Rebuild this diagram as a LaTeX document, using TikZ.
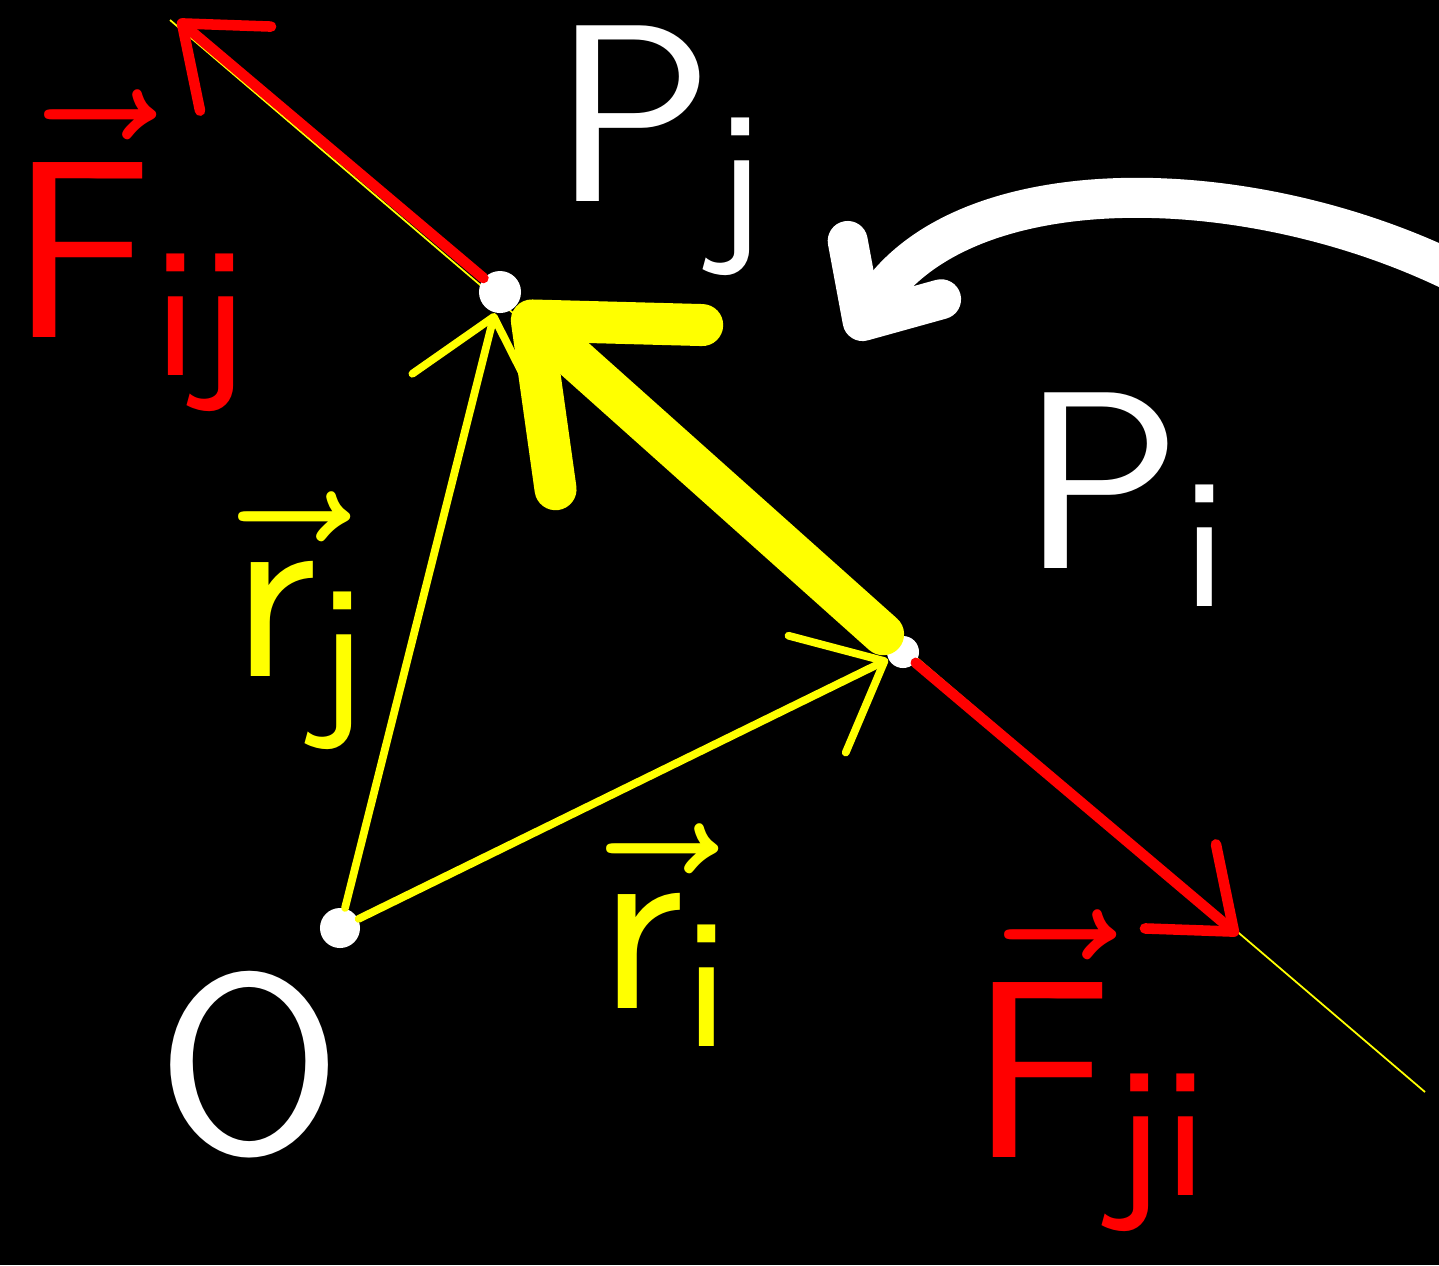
\documentclass[tikz,border=0pt]{standalone}
\usepackage{amsmath, amssymb}
\usepackage{graphicx}
\usetikzlibrary{arrows.meta}

\definecolor{penyellow}{RGB}{255,255,0}
\definecolor{penred}{RGB}{255,0,0}
\newcommand{\biglab}[1]{\scalebox{7.2}{#1}}

\begin{document}
\begin{tikzpicture}[
  x=0.01cm,
  y=-0.01cm,
  pt/.style={circle,fill=white,inner sep=0pt,minimum size=#1},
  vecpos/.style={draw=penyellow,line width=2.2pt,line cap=round,-{Straight Barb[length=0.75cm,width=1.3cm,round]}},
  vecrel/.style={draw=penyellow,line width=0.42cm,line cap=round,shorten <=0.1cm,-{Straight Barb[length=1.3cm,width=2.2cm,round]}},
  force/.style={draw=penred,line width=3pt,line cap=round,-{Straight Barb[length=0.7cm,width=1.1cm,round]}},
  guide/.style={draw=penyellow,line width=0.5pt},
  swirl/.style={draw=white,line width=0.4cm,-{Straight Barb[length=0.6cm,width=1.1cm,round]}},
  lab/.style={font=\sffamily,inner sep=0pt}
]
\useasboundingbox (0,0) rectangle (1439,1265);
\fill[black] (0,0) rectangle (1439,1265);
\clip (0,0) rectangle (1439,1265);

\coordinate (guideA) at (170,20);
\coordinate (guideB) at (1425,1092);
\draw[guide] (guideA) -- (guideB);

\node[pt=0.4cm] (O) at (340,928) {};
\node[pt=0.42cm] (Pj) at (500,292) {};
\node[pt=0.32cm] (Pi) at (903,652) {};

\coordinate (Fijtip) at (178,20);
\coordinate (Fjitip) at (1238,935);
\draw[force] (Pj) -- (Fijtip);
\draw[force] (Pi) -- (Fjitip);

\draw[vecpos] (O) -- (Pj);
\draw[vecpos] (O) -- (Pi);
\draw[vecrel] (Pi) -- (Pj);

\coordinate (swirlA) at (1460,275);
\coordinate (swirlB) at (852,338);
\draw[swirl] (swirlA) .. controls (1250,170) and (960,165) .. (swirlB);

\node[lab,white] (Olab) at (250,1065) {\biglab{O}};
\node[lab,white] (Pjlab) at (665,150) {\biglab{$\mathsf{P}_{\mathsf{j}}$}};
\node[lab,white] (Pilab) at (1130,500) {\biglab{$\mathsf{P}_{\mathsf{i}}$}};
\node[lab,penyellow] (rjlab) at (305,620) {\biglab{$\vec{\mathsf{r}}_{\mathsf{j}}$}};
\node[lab,penyellow] (rilab) at (670,935) {\biglab{$\vec{\mathsf{r}}_{\mathsf{i}}$}};
\node[lab,penred] (Fijlab) at (135,250) {\biglab{$\vec{\mathsf{F}}_{\mathsf{ij}}$}};
\node[lab,penred] (Fjilab) at (1095,1070) {\biglab{$\vec{\mathsf{F}}_{\mathsf{ji}}$}};
\end{tikzpicture}
\end{document}
